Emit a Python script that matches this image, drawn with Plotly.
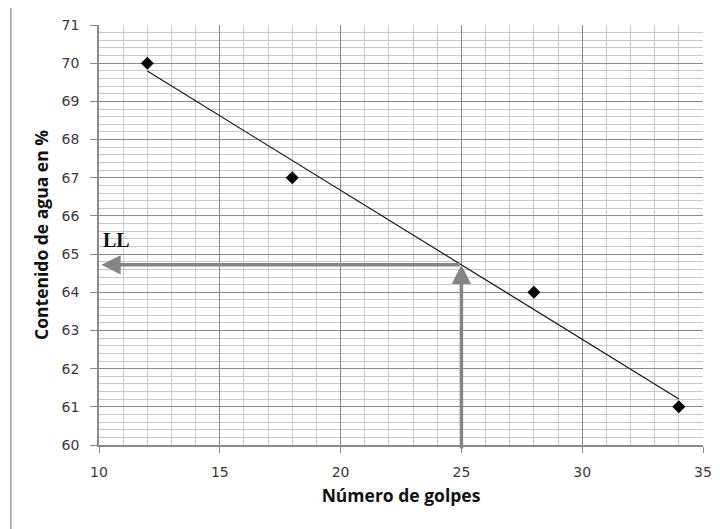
import numpy as np
import plotly.graph_objects as go

golpes = [12, 18, 28, 34]
contenido = [70, 67, 64, 61]
ll_golpes = 25
x_range = [10, 35]
y_range = [60, 71]

slope, intercept = np.polyfit(golpes, contenido, 1)
trend_x = [min(golpes), max(golpes)]
trend_y = [slope * v + intercept for v in trend_x]
ll_value = slope * ll_golpes + intercept

fig = go.Figure()
fig.add_trace(go.Scatter(x=trend_x, y=trend_y, mode="lines",
                         line=dict(color="#1a1a1a", width=1.2), hoverinfo="skip"))
fig.add_trace(go.Scatter(x=golpes, y=contenido, mode="markers",
                         marker=dict(symbol="diamond", size=10, color="black")))

# LL arrows
arrow_color = "#858585"
fig.add_annotation(x=ll_golpes, y=ll_value, ax=ll_golpes, ay=59.87,
                   xref="x", yref="y", axref="x", ayref="y",
                   showarrow=True, arrowhead=2, arrowsize=1.1, arrowwidth=3.5,
                   arrowcolor=arrow_color, text="")
fig.add_annotation(x=10.1, y=ll_value, ax=ll_golpes, ay=ll_value,
                   xref="x", yref="y", axref="x", ayref="y",
                   showarrow=True, arrowhead=2, arrowsize=1.1, arrowwidth=3.5,
                   arrowcolor=arrow_color, text="")
fig.add_annotation(x=10.1, y=65.02, xref="x", yref="y", text="<b>LL</b>",
                   showarrow=False, xanchor="left", yanchor="bottom",
                   font=dict(family="Liberation Serif", size=20, color="#111"))

# outer frame
fig.add_shape(type="rect", xref="paper", yref="paper",
              x0=-0.146, x1=1.1, y0=-0.3, y1=1.0452,
              line=dict(color="#a0a0a0", width=1.5), fillcolor="rgba(0,0,0,0)", layer="below")

axis_font = dict(family="DejaVu Sans", size=14, color="#3a3a3a")
title_font = dict(family="Open Sans", size=17.5, color="#111")
fig.update_layout(
    width=712, height=521,
    margin=dict(l=91, r=17, t=17, b=84, autoexpand=False),
    paper_bgcolor="white", plot_bgcolor="white",
    showlegend=False,
    xaxis=dict(range=x_range, dtick=5, tick0=10, showgrid=True, gridcolor="#8a8a8a", gridwidth=1,
               minor=dict(dtick=1, showgrid=True, gridcolor="#c8c8c8", gridwidth=1),
               zeroline=False, showline=True, linecolor="#8a8a8a", linewidth=1.5,
               ticks="outside", ticklen=6, tickcolor="#8a8a8a", tickfont=axis_font,
               ticklabelstandoff=7,
               title=dict(text="<b>Número de golpes</b>", font=title_font, standoff=11)),
    yaxis=dict(range=y_range, dtick=1, showgrid=True, gridcolor="#8a8a8a", gridwidth=1,
               minor=dict(dtick=0.2, showgrid=True, gridcolor="#c8c8c8", gridwidth=1),
               zeroline=False, showline=True, linecolor="#8a8a8a", linewidth=1.5,
               ticks="outside", ticklen=7, tickcolor="#8a8a8a", tickfont=axis_font,
               ticklabelstandoff=8,
               title=dict(text="<b>Contenido de agua en %</b>", font=title_font, standoff=8)),
)

fig.write_html("out.html")
